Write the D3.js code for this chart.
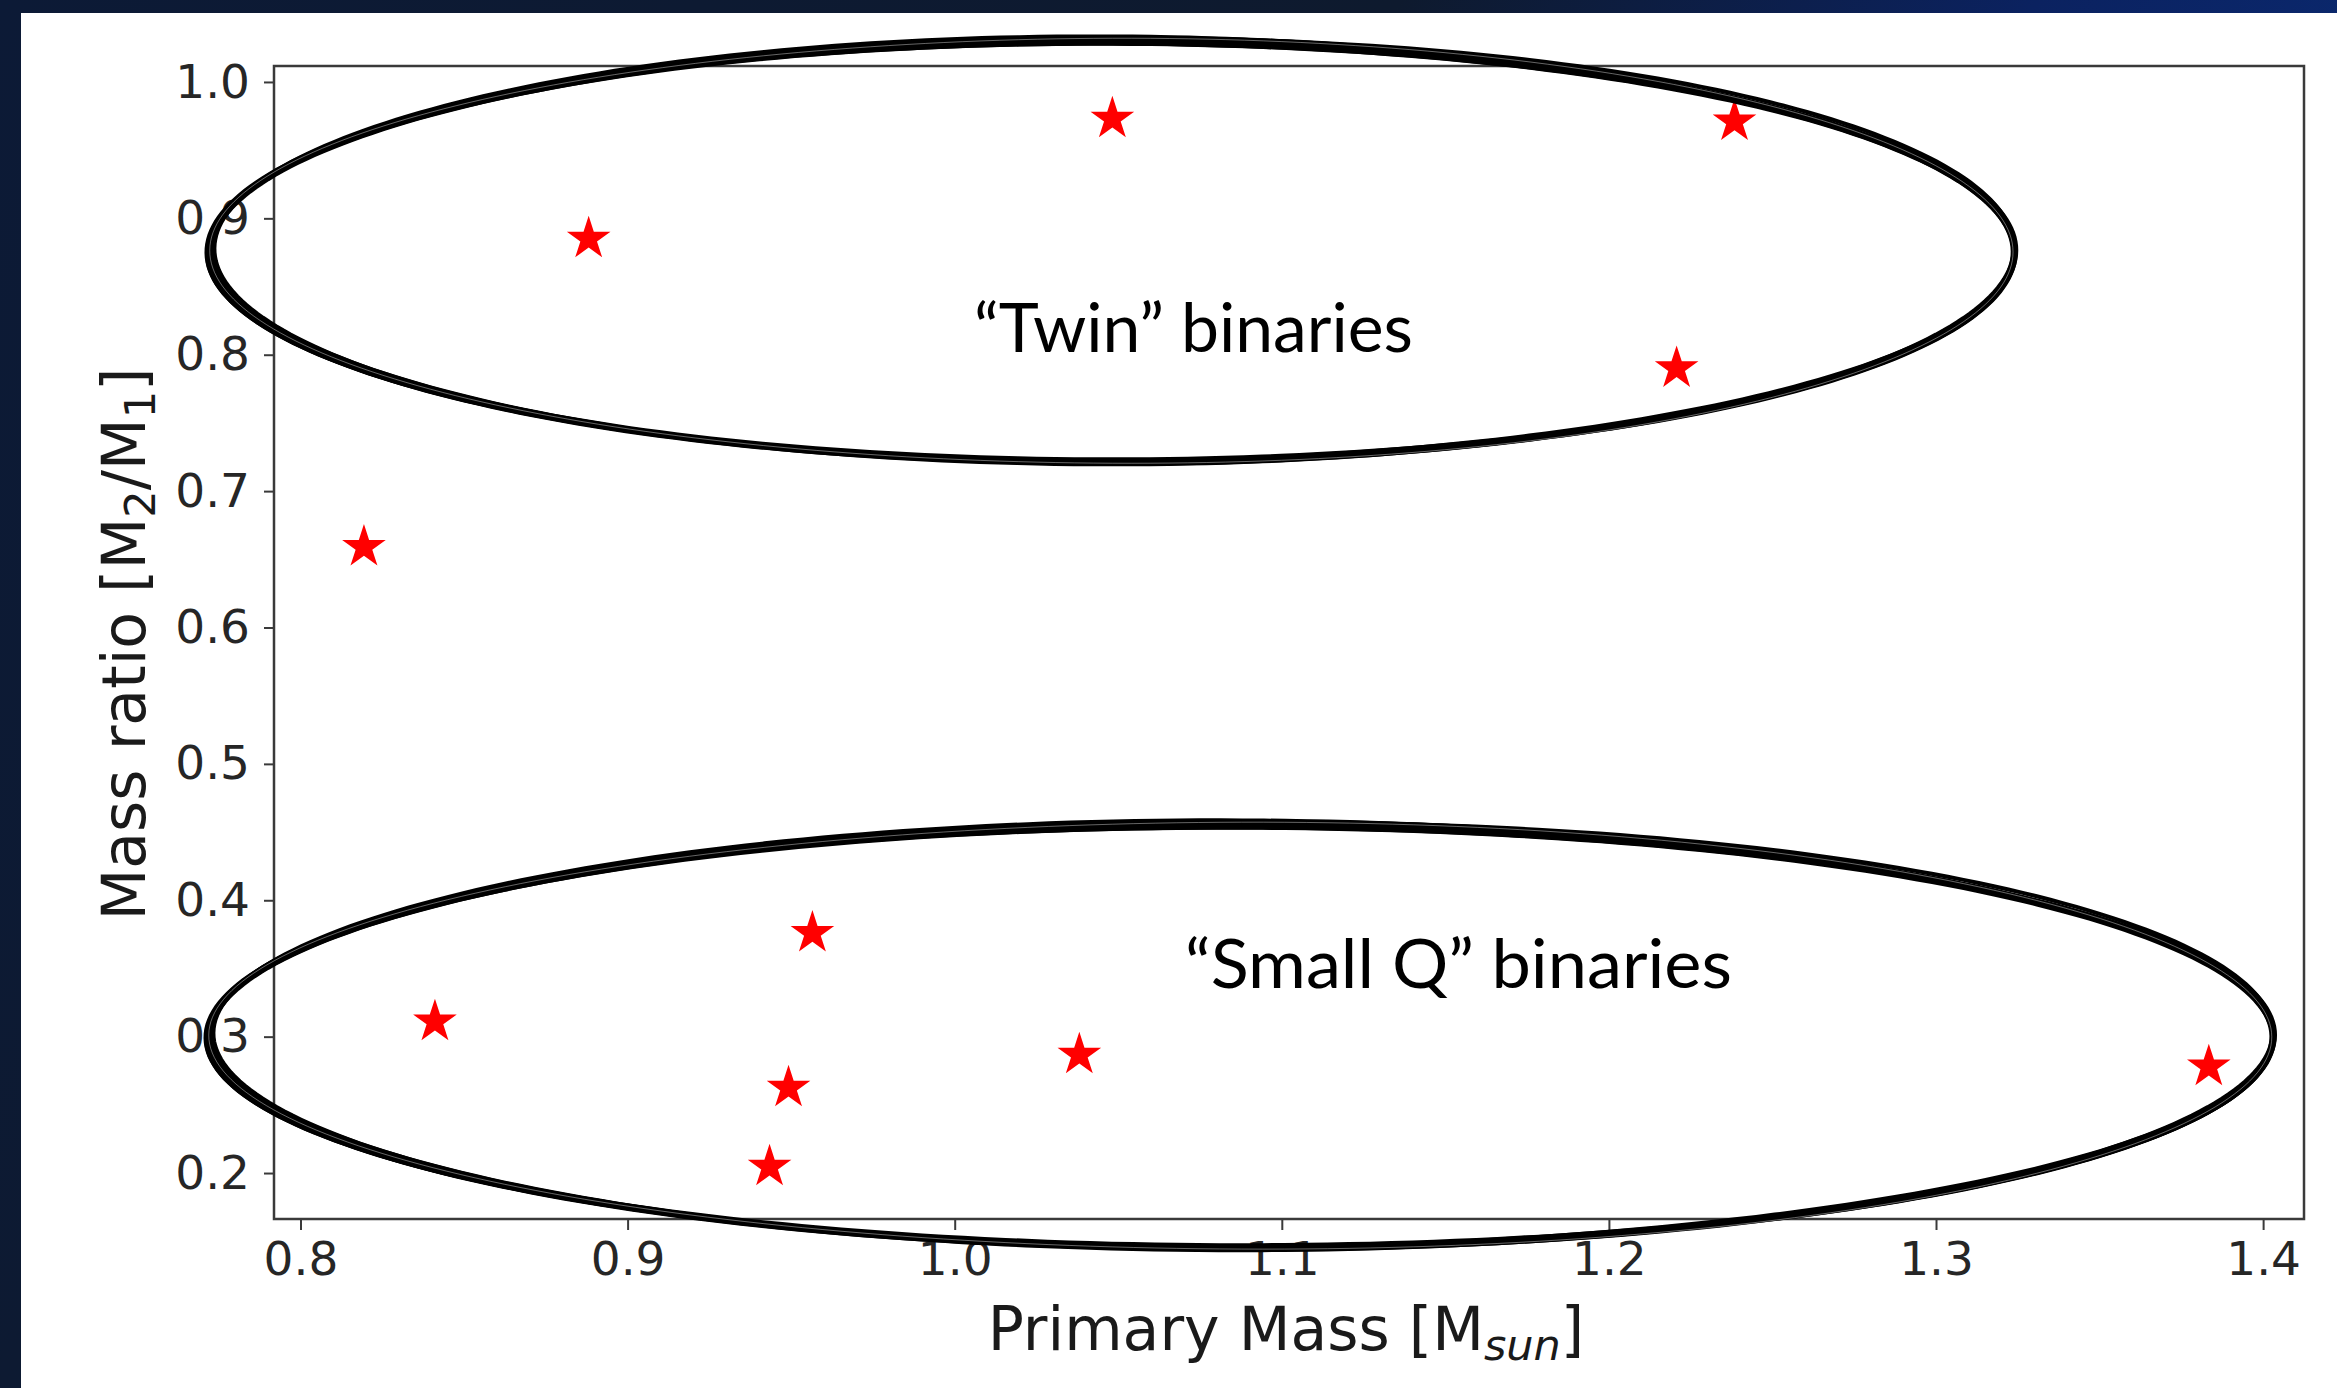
<!DOCTYPE html>
<html>
<head>
<meta charset="utf-8">
<script src="https://cdn.jsdelivr.net/npm/d3@7"></script>
<style>
  html, body { margin: 0; padding: 0; background: #0d1a30; overflow: hidden; }
  .axis text { font-family: "DejaVu Sans"; font-size: 47px; fill: #262626; }
  .axis line { stroke: #3a3a3a; stroke-width: 2; }
  .axis path { display: none; }
  .label { font-family: "DejaVu Sans"; font-size: 60px; fill: #1a1a1a; }
  .note { font-family: Futura, "Century Gothic", Lato, sans-serif; font-size: 68px; fill: #000; }
</style>
</head>
<body>
<svg id="chart"></svg>
<script>
// binaries: primary mass (M_sun) and mass ratio M2/M1
var primaryMass = [0.8194, 0.8411, 0.8881, 0.9434, 0.9492, 0.9565, 1.0381, 1.0482, 1.2207, 1.2384, 1.3834];
var massRatio   = [0.659, 0.311, 0.885, 0.2046, 0.2625, 0.376, 0.2867, 0.973, 0.790, 0.971, 0.278];

var xTicks = [0.8, 0.9, 1.0, 1.1, 1.2, 1.3, 1.4];
var yTicks = [0.2, 0.3, 0.4, 0.5, 0.6, 0.7, 0.8, 0.9, 1.0];

var groupNames = ["\u201CTwin\u201D binaries", "\u201CSmall Q\u201D binaries"];

var W = 2337, H = 1388;
var margin = {left: 274, top: 66, right: 2337 - 2304, bottom: 1388 - 1219};
var width = W - margin.left - margin.right,
    height = H - margin.top - margin.bottom;

var svg = d3.select("#chart").attr("width", W).attr("height", H);

// slide background
var defs = svg.append("defs");
var bg = defs.append("linearGradient").attr("id", "bg")
  .attr("x1", 0).attr("y1", 0).attr("x2", 1).attr("y2", 0.3);
bg.append("stop").attr("offset", "0").attr("stop-color", "#0c1a36");
bg.append("stop").attr("offset", "0.55").attr("stop-color", "#0e1a2e");
bg.append("stop").attr("offset", "0.8").attr("stop-color", "#0b2260");
bg.append("stop").attr("offset", "1").attr("stop-color", "#0a2a72");
svg.append("rect").attr("width", W).attr("height", H).attr("fill", "url(#bg)");
svg.append("rect").attr("x", 21).attr("y", 13).attr("width", W - 21).attr("height", H - 13).attr("fill", "#fff");

var g = svg.append("g").attr("transform", "translate(" + margin.left + "," + margin.top + ")");

var x = d3.scaleLinear().domain([0.7919, 1.4125]).range([0, width]);
var y = d3.scaleLinear().domain([0.1663, 1.0117]).range([height, 0]);

g.append("g").attr("class", "axis")
  .attr("transform", "translate(0," + height + ")")
  .call(d3.axisBottom(x).tickValues(xTicks).tickFormat(d3.format(".1f")).tickSize(11).tickPadding(12));

g.append("g").attr("class", "axis")
  .call(d3.axisLeft(y).tickValues(yTicks).tickFormat(d3.format(".1f")).tickSize(10).tickPadding(14));

g.append("rect")
  .attr("width", width).attr("height", height)
  .attr("fill", "none").attr("stroke", "#3a3a3a").attr("stroke-width", 2.5);

// stars
g.selectAll(".star")
  .data(primaryMass)
  .enter().append("path")
  .attr("class", "star")
  .attr("d", d3.symbol().type(d3.symbolStar).size(590))
  .attr("transform", function(d, i) { return "translate(" + x(d) + "," + y(massRatio[i]) + ")"; })
  .attr("fill", "#ff0000");

// hand drawn ellipses around the two groups
var rings = [
  {cx: 1.0481, cy: 0.876, rx: 0.2758, ry: 0.1547},
  {cx: 1.0875, cy: 0.3005, rx: 0.3155, ry: 0.1554}
];
// dx, dy, drx, dry, rotation (deg), width, colour
var strokes = [
  [0, 0, 0, 0, 0, 7, "#000"],
  [1, -1, -2, 1.5, 0.12, 5, "#000"],
  [-1.5, 1, 2, -1.5, -0.1, 5, "#000"],
  [0.5, 1.5, -1, -1, 0.15, 4, "#000"],
  [-1, -0.5, 1.5, 2, -0.15, 4, "#000"],
  [0.5, 0, -0.5, 1.5, 0.05, 0.4, "#fff"]
];
var line = d3.line().curve(d3.curveLinearClosed);
rings.forEach(function(r) {
  var cx = x(r.cx), cy = y(r.cy), rx = x(r.cx + r.rx) - cx, ry = y(r.cy - r.ry) - cy;
  strokes.forEach(function(s, k) {
    var rot = s[4] * Math.PI / 180, pts = [];
    for (var i = 0; i < 300; i++) {
      var t = i / 300 * 2 * Math.PI;
      var wob = 1.2 * Math.sin(3 * t + k);
      var ex = (rx + s[2] + wob) * Math.cos(t), ey = (ry + s[3] + wob) * Math.sin(t);
      pts.push([cx + s[0] + ex * Math.cos(rot) - ey * Math.sin(rot),
                cy + s[1] + ex * Math.sin(rot) + ey * Math.cos(rot)]);
    }
    g.append("path").attr("d", line(pts))
      .attr("fill", "none").attr("stroke", s[6]).attr("stroke-width", s[5]);
  });
});

// notes
var notePos = [[1.0059, 0.802, 439], [1.0704, 0.3357, 547]];
g.selectAll(".note")
  .data(groupNames)
  .enter().append("text")
  .attr("class", "note")
  .attr("x", function(d, i) { return x(notePos[i][0]); })
  .attr("y", function(d, i) { return y(notePos[i][1]); })
  .attr("textLength", function(d, i) { return notePos[i][2]; })
  .attr("lengthAdjust", "spacingAndGlyphs")
  .text(function(d) { return d; });

// axis labels
var xl = svg.append("text").attr("class", "label")
  .attr("x", 1286).attr("y", 1350).attr("text-anchor", "middle");
xl.append("tspan").text("Primary Mass [M");
xl.append("tspan").attr("font-size", "43px").attr("font-style", "italic").attr("dy", 10).text("sun");
xl.append("tspan").attr("dy", -10).text("]");

var yl = svg.append("text").attr("class", "label")
  .attr("transform", "translate(145,644) rotate(-90)").attr("text-anchor", "middle");
yl.append("tspan").text("Mass ratio [M");
yl.append("tspan").attr("font-size", "43px").attr("dy", 10).text("2");
yl.append("tspan").attr("dy", -10).text("/M");
yl.append("tspan").attr("font-size", "43px").attr("dy", 10).text("1");
yl.append("tspan").attr("dy", -10).text("]");
</script>
</body>
</html>
